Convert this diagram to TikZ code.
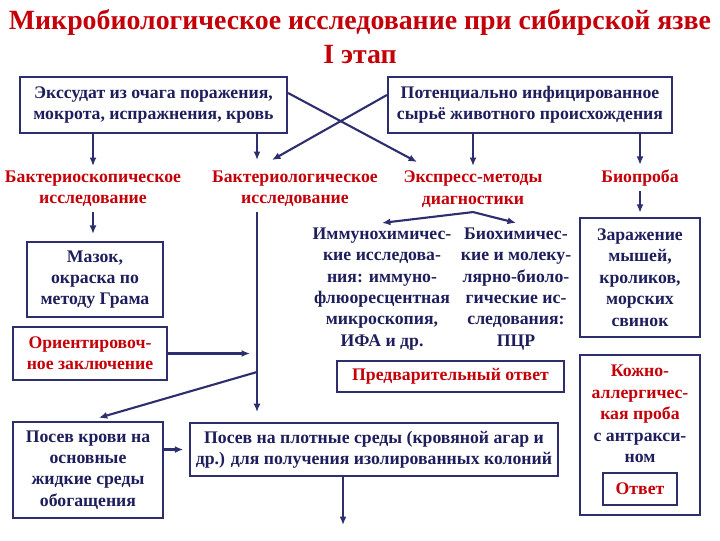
\documentclass[tikz,border=0pt]{standalone}
\usepackage{fontspec}
\setmainfont{Liberation Serif}
\usetikzlibrary{arrows.meta,positioning,calc}
\definecolor{navy}{HTML}{2E2E6E}
\definecolor{navytext}{HTML}{1E1E5C}
\definecolor{darkred}{HTML}{C40008}
\newcommand{\bodyfont}{\fontsize{12.6}{15.2}\selectfont\bfseries}

\begin{document}
\begin{tikzpicture}[x=0.025cm, y=-0.025cm, >={Latex[length=6pt,width=5pt]},
  line/.style={navy, line width=1.5pt},
  box/.style={draw=navy, line width=1.5pt, fill=white, align=center, inner sep=0pt, font=\bodyfont, text=navytext},
  lbl/.style={align=center, font=\bodyfont, text=darkred},
  txt/.style={align=center, font=\bodyfont, text=navytext},
  title/.style={font=\fontsize{19.8}{23}\selectfont\bfseries, text=darkred}]
  \useasboundingbox (0,0) rectangle (720,540);

  % title
  \node[title] (title) at (360,22) {Микробиологическое исследование при сибирской язве};
  \node[title] (stage) at (360,55) {I этап};

  % sources
  \node[box, minimum width=6.675cm, minimum height=1.4cm] (exud) at (153.5,105) {Экссудат из очага поражения,\\мокрота, испражнения, кровь};
  \node[box, minimum width=7.1cm, minimum height=1.4cm] (raw) at (530,105) {Потенциально инфицированное\\сырьё животного происхождения};

  % methods
  \node[lbl] (bscope) at (93,189) {Бактериоскопическое\\исследование};
  \node[lbl] (blog) at (295,189) {Бактериологическое\\исследование};
  \node[lbl] (express) at (473,189) {Экспресс-методы\\диагностики};
  \node[lbl] (bioprob) at (640,178) {Биопроба};
  \coordinate (blogin) at (257,160);
  \coordinate (crossA) at (417,162);
  \coordinate (crossB) at (272,160);

  \draw[line, ->] (exud.south -| bscope.north) -- (bscope.north);
  \draw[line, ->] (exud.south -| blogin) -- (blogin);
  \draw[line, ->] ($(exud.east)+(0,-12)$) -- (crossA);
  \draw[line, ->] ($(raw.west)+(0,-10)$) -- (crossB);
  \draw[line, ->] (raw.south -| express.north) -- (express.north);
  \draw[line, ->] (raw.south -| bioprob.north) -- (bioprob.north);

  % bacterioscopy
  \node[box, minimum width=3.4cm, minimum height=1.875cm] (smear) at (95,279.5) {Мазок,\\окраска по\\методу Грама};
  \node[box, minimum width=3.85cm, minimum height=1.325cm, text=darkred] (concl) at (90,353.5) {Ориентировоч-\\ное заключение};
  \draw[line, ->, shorten >=5pt] (bscope.south) -- (bscope.south |- smear.north);

  % bacteriology
  \node[box, minimum width=3.75cm, minimum height=2.4cm] (blood) at (88,470) {Посев крови на\\основные\\жидкие среды\\обогащения};
  \node[box, minimum width=9.2cm, minimum height=1.325cm] (solid) at (374,449.5) {Посев на плотные среды (кровяной агар и\\др.) для получения изолированных колоний};
  \coordinate (split) at (257,372);
  \coordinate (solidend) at (343,525);
  \draw[line, ->, shorten >=7pt] (blog.south -| blogin) -- (solid.north -| blogin);
  \draw[line, ->, shorten >=5pt] (concl.east) -- (concl.east -| blogin);
  \draw[line, ->, shorten >=8pt] (split) -- (blood.north);
  \draw[line, ->, shorten >=4pt] (blood.east |- solid.west) -- (solid.west);
  \draw[line, ->] (solid.south -| solidend) -- (solidend);

  % express methods
  \node[txt] (immuno) at (382,289) {Иммунохимичес-\\кие исследова-\\ния: иммуно-\\флюоресцентная\\микроскопия,\\ИФА и др.};
  \node[txt] (biochem) at (516,289) {Биохимичес-\\кие и молеку-\\лярно-биоло-\\гические ис-\\следования:\\ПЦР};
  \node[box, minimum width=5.675cm, minimum height=0.775cm, text=darkred] (prelim) at (450.5,376.5) {Предварительный ответ};
  \draw[line, ->] (express.south) -- (immuno.north);
  \draw[line, ->] (express.south) -- (biochem.north);

  % bioassay
  \node[box, minimum width=3cm, minimum height=2.975cm] (infect) at (640,277.5) {Заражение\\мышей,\\кроликов,\\морских\\свинок};
  \node[box, minimum width=3cm, minimum height=4cm] (skin) at (640,435) {};
  \node[txt] (skintxt) at (640,414) {\textcolor{darkred}{Кожно-}\\\textcolor{darkred}{аллергичес-}\\\textcolor{darkred}{кая проба}\\с антракси-\\ном};
  \node[box, minimum width=1.85cm, minimum height=0.8cm, text=darkred] (answer) at (640,489) {Ответ};
  \draw[line, ->, shorten >=3pt] (bioprob.south) -- (infect.north);
\end{tikzpicture}
\end{document}
